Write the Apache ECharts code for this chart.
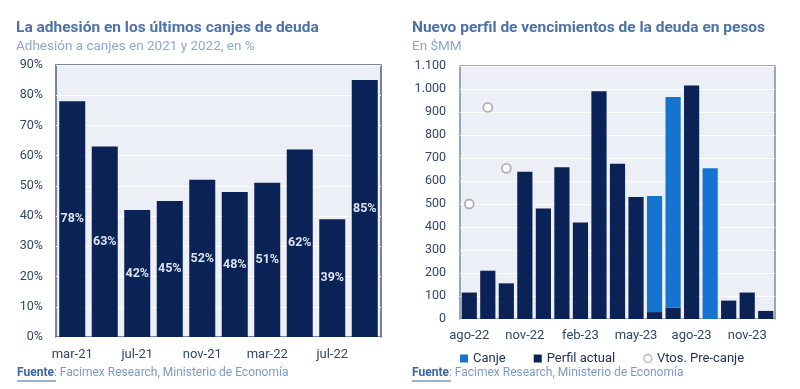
<!DOCTYPE html>
<html><head><meta charset="utf-8">
<script src="https://cdn.jsdelivr.net/npm/echarts@6/dist/echarts.min.js"></script>
<style>html,body{margin:0;padding:0;background:#fff}#c{width:800px;height:389px}</style>
</head><body><div id="c"></div>
<script>
// Left chart data
const leftCategories = ['mar-21','may-21','jul-21','sep-21','nov-21','ene-22','mar-22','may-22','jul-22','sep-22'];
const adhesion = [78, 63, 42, 45, 52, 48, 51, 62, 39, 85];
const leftTicks = [0,10,20,30,40,50,60,70,80,90];

// Right chart data
const rightCategories = ['ago-22','sep-22','oct-22','nov-22','dic-22','ene-23','feb-23','mar-23','abr-23','may-23','jun-23','jul-23','ago-23','sep-23','oct-23','nov-23','dic-23'];
const perfilActual = [115, 210, 155, 640, 480, 660, 420, 990, 675, 530, 30, 50, 1015, 0, 80, 115, 35];
const canje =        [0, 0, 0, 0, 0, 0, 0, 0, 0, 0, 505, 915, 0, 655, 0, 0, 0];
const vtosPreCanje = [500, 920, 655, null, null, null, null, null, null, null, null, null, null, null, null, null, null];

const NAVY = '#0b2257', BLUE = '#1674d1', AX = '#33456b';
const FONT = 'Roboto';

const chart = echarts.init(document.getElementById('c'), null, {renderer:'canvas'});
function thousands(v){ return String(v).replace(/\B(?=(\d{3})+(?!\d))/g, '.'); }

chart.setOption({
  animation: false,
  textStyle: {fontFamily: FONT},
  title: [
    {text: 'La adhesión en los últimos canjes de deuda', subtext: 'Adhesión a canjes en 2021 y 2022, en %',
     left: 11, top: 15, itemGap: 4,
     textStyle: {fontFamily: FONT, fontSize: 15.5, fontWeight: 'bold', color: '#4c72a9'},
     subtextStyle: {fontFamily: FONT, fontSize: 13.5, color: '#8ba8d3'}},
    {text: 'Nuevo perfil de vencimientos de la deuda en pesos', subtext: 'En $MM',
     left: 407, top: 15, itemGap: 4,
     textStyle: {fontFamily: FONT, fontSize: 15.5, fontWeight: 'bold', color: '#4c72a9'},
     subtextStyle: {fontFamily: FONT, fontSize: 13.5, color: '#8ba8d3'}}
  ],
  grid: [
    {left: 56, right: 419, top: 65, bottom: 52, show: true, backgroundColor: '#eceff5', borderColor: '#4d5d80', borderWidth: 1.5},
    {left: 460, right: 25, top: 66, bottom: 70, show: true, backgroundColor: '#eceff5', borderColor: '#7d8aa5', borderWidth: 1.5}
  ],
  legend: {
    left: 455, top: 347, itemWidth: 8, itemHeight: 8, itemGap: 28,
    textStyle: {fontFamily: FONT, fontSize: 13, color: '#1a2d5a'},
    data: [{name: 'Canje', icon: 'rect'}, {name: 'Perfil actual', icon: 'rect'},
           {name: 'Vtos. Pre-canje', icon: 'circle', itemStyle: {color: '#ffffff', borderColor: '#a0a0a0', borderWidth: 1.3}}]
  },
  xAxis: [
    {type: 'category', gridIndex: 0, data: leftCategories,
     axisLine: {show: false}, axisTick: {show: false},
     axisLabel: {interval: 1, color: AX, fontSize: 13, margin: 11}},
    {type: 'category', gridIndex: 1, data: rightCategories,
     axisLine: {show: false}, axisTick: {show: false},
     axisLabel: {interval: 2, color: AX, fontSize: 13, margin: 10}}
  ],
  yAxis: [
    {type: 'value', gridIndex: 0, min: 0, max: 90, interval: 10,
     axisLine: {show: false}, axisTick: {show: false},
     axisLabel: {formatter: '{value}%', color: AX, fontSize: 12.5, margin: 13},
     splitLine: {lineStyle: {color: '#ffffff', width: 1.2}}},
    {type: 'value', gridIndex: 1, min: 0, max: 1100, interval: 100,
     axisLine: {show: false}, axisTick: {show: false},
     axisLabel: {formatter: thousands, color: AX, fontSize: 12.5, margin: 14},
     splitLine: {lineStyle: {color: '#ffffff', width: 1.2}}}
  ],
  series: [
    {type: 'bar', name: 'Adhesión', xAxisIndex: 0, yAxisIndex: 0, data: adhesion,
     barCategoryGap: '20%', itemStyle: {color: NAVY},
     label: {show: true, position: 'inside', formatter: '{c}%', color: '#dbe3ef', fontWeight: 'bold', fontSize: 12.5}},
    {type: 'bar', name: 'Perfil actual', xAxisIndex: 1, yAxisIndex: 1, stack: 'v', data: perfilActual,
     barCategoryGap: '18%', itemStyle: {color: NAVY}},
    {type: 'bar', name: 'Canje', xAxisIndex: 1, yAxisIndex: 1, stack: 'v', data: canje,
     barCategoryGap: '18%', itemStyle: {color: BLUE}},
    {type: 'scatter', name: 'Vtos. Pre-canje', xAxisIndex: 1, yAxisIndex: 1, data: vtosPreCanje,
     symbol: 'circle', symbolSize: 9, itemStyle: {color: '#ffffff', borderColor: '#a0a0a0', borderWidth: 1.8}}
  ],
  graphic: [
    {type: 'text', left: 17, top: 367, style: {
      text: '{b|Fuente}{n|: Facimex Research, Ministerio de Economía}',
      rich: {b: {fontFamily: FONT, fontSize: 12, fontWeight: 'bold', fill: '#3c63a6'},
             n: {fontFamily: FONT, fontSize: 12, fill: '#7b9bc9'}}}},
    {type: 'text', left: 412, top: 367, style: {
      text: '{b|Fuente}{n|: Facimex Research, Ministerio de Economía}',
      rich: {b: {fontFamily: FONT, fontSize: 12, fontWeight: 'bold', fill: '#3c63a6'},
             n: {fontFamily: FONT, fontSize: 12, fill: '#7b9bc9'}}}},
    {type: 'line', shape: {x1: 17, y1: 381, x2: 56, y2: 381}, style: {stroke: '#3c63a6', lineWidth: 1}},
    {type: 'line', shape: {x1: 412, y1: 381, x2: 451, y2: 381}, style: {stroke: '#3c63a6', lineWidth: 1}}
  ]
});
</script></body></html>
